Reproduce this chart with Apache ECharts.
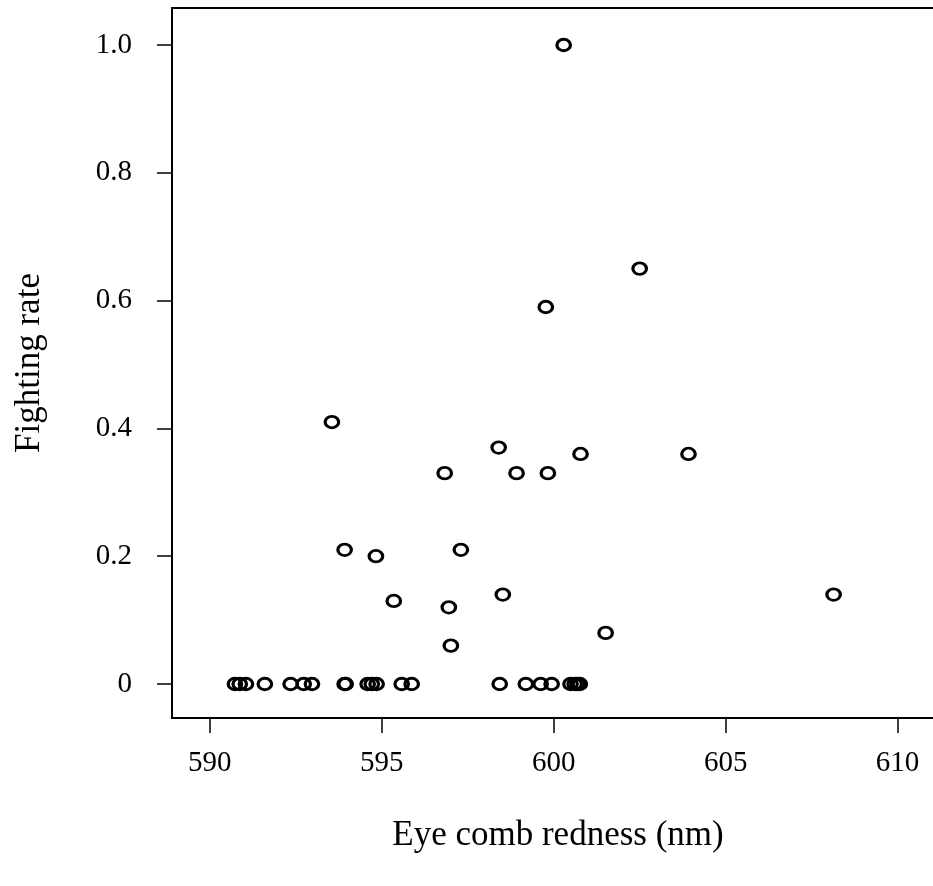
<!DOCTYPE html>
<html>
<head>
<meta charset="utf-8">
<script src="https://cdn.jsdelivr.net/npm/echarts@6/dist/echarts.min.js"></script>
<style>
html,body{margin:0;padding:0;background:#fff;}
#chart{width:933px;height:886px;}
</style>
</head>
<body>
<div id="chart"></div>
<script>
// Eye comb redness (nm) values
var redness = [
  590.73, 590.87, 591.05, 591.60, 592.35, 592.73, 592.97, 593.92, 593.95, 594.59, 594.71,
  594.85, 595.58, 595.87, 598.43, 599.19, 599.62, 599.94, 600.49, 600.61, 600.70, 600.76,
  600.29, 602.50, 599.77, 593.55, 598.40, 596.83, 598.92, 599.83, 600.78, 603.92,
  593.92, 594.83, 597.30, 595.35, 596.95, 598.52, 597.01, 601.51, 608.14
];
// Fighting rate values
var fighting = [
  0, 0, 0, 0, 0, 0, 0, 0, 0, 0, 0,
  0, 0, 0, 0, 0, 0, 0, 0, 0, 0, 0,
  1.00, 0.65, 0.59, 0.41, 0.37, 0.33, 0.33, 0.33, 0.36, 0.36,
  0.21, 0.20, 0.21, 0.13, 0.12, 0.14, 0.06, 0.08, 0.14
];
var xTicks = [590, 595, 600, 605, 610];
var yTicks = [0, 0.2, 0.4, 0.6, 0.8, 1.0];

var points = redness.map(function (x, i) { return [x, fighting[i]]; });

var chart = echarts.init(document.getElementById('chart'), null, {renderer: 'canvas'});
var serif = '"Liberation Serif", "DejaVu Serif", serif';
chart.setOption({
  animation: false,
  backgroundColor: '#ffffff',
  grid: {
    left: 172, top: 8, width: 772, height: 710,
    containLabel: false,
    outerBoundsMode: 'none',
    show: true, borderColor: '#000', borderWidth: 2, backgroundColor: 'transparent'
  },
  xAxis: {
    type: 'value',
    min: 588.9, max: 611.35,
    name: 'Eye comb redness (nm)',
    nameLocation: 'middle',
    nameGap: 100,
    nameTextStyle: {fontFamily: serif, fontSize: 35, color: '#000'},
    axisLine: {show: false, onZero: false},
    splitLine: {show: false},
    axisTick: {show: true, length: 15, customValues: xTicks, lineStyle: {color: '#000', width: 1.5}},
    axisLabel: {
      customValues: xTicks, margin: 31,
      fontFamily: serif, fontSize: 29, color: '#000'
    }
  },
  yAxis: {
    type: 'value',
    min: -0.0532, max: 1.0579,
    name: 'Fighting rate',
    nameLocation: 'middle',
    nameGap: 125,
    nameRotate: 90,
    nameTextStyle: {fontFamily: serif, fontSize: 35, color: '#000'},
    axisLine: {show: false, onZero: false},
    splitLine: {show: false},
    axisTick: {show: true, length: 15, customValues: yTicks, lineStyle: {color: '#000', width: 1.5}},
    axisLabel: {
      customValues: yTicks, margin: 40,
      fontFamily: serif, fontSize: 29, color: '#000',
      formatter: function (v) { return v === 0 ? '0' : v.toFixed(1); }
    }
  },
  series: [{
    type: 'scatter',
    data: points,
    symbol: 'circle',
    symbolSize: [13.5, 11.5],
    itemStyle: {color: 'rgba(0,0,0,0)', borderColor: '#000', borderWidth: 3, opacity: 1}
  }]
});
</script>
</body>
</html>
